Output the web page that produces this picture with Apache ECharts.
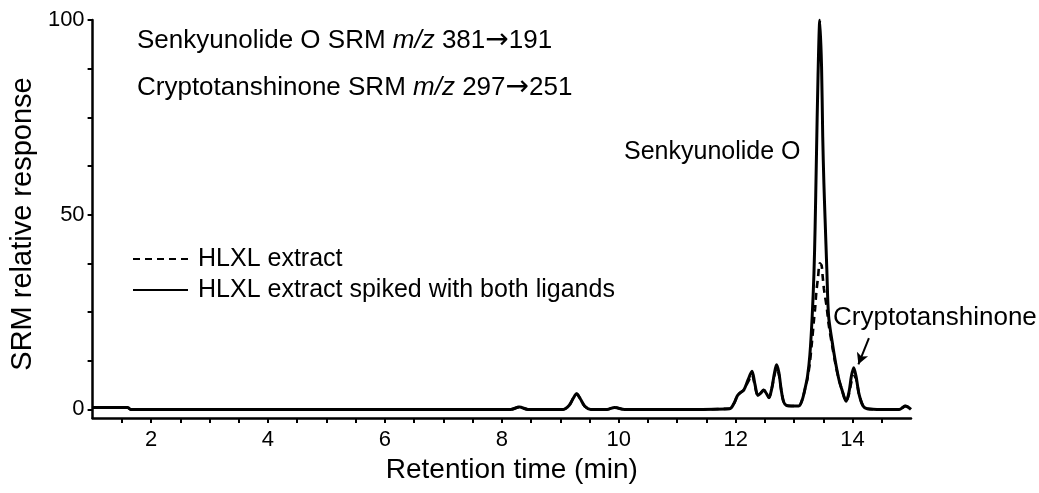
<!DOCTYPE html>
<html>
<head>
<meta charset="utf-8">
<script src="https://cdn.jsdelivr.net/npm/echarts@6/dist/echarts.min.js"></script>
<style>
html,body{margin:0;padding:0;background:#fff;}
#chart{width:1039px;height:493px;}
</style>
</head>
<body>
<div id="chart"></div>
<script>
// Retention time sample points (min)
const retentionTimes = [1.0, 1.6, 1.65, 3.0, 5.0, 7.0, 8.15, 8.3, 8.45, 9.05, 9.15, 9.22, 9.28, 9.34, 9.42, 9.52, 9.8, 9.93, 10.1, 11.0, 11.9, 11.97, 12.03, 12.08, 12.14, 12.21, 12.28, 12.33, 12.38, 12.43, 12.48, 12.53, 12.57, 12.62, 12.66, 12.70, 12.74, 12.78, 12.82, 12.87, 12.95, 13.08, 13.14, 13.19, 13.23, 13.27, 13.31, 13.34, 13.36, 13.38, 13.41, 13.44, 13.47, 13.49, 13.51, 13.53, 13.56, 13.59, 13.65, 13.71, 13.77, 13.82, 13.89, 13.94, 13.98, 14.02, 14.06, 14.11, 14.18, 14.25, 14.5, 14.8, 14.86, 14.9, 14.95, 15.0];

// HLXL extract spiked with both ligands (solid)
const spikedResponse = [0.5, 0.5, 0, 0, 0, 0, 0, 0.6, 0, 0, 1.0, 2.8, 4.0, 2.8, 0.8, 0, 0, 0.5, 0, 0, 0.2, 1.5, 3.5, 4.3, 5.0, 7.5, 9.8, 6.5, 3.6, 4.2, 5.0, 4.0, 3.0, 5.5, 9.0, 11.5, 9.5, 5.0, 2.0, 1.0, 0.9, 0.9, 2.5, 5.5, 8.5, 14, 24, 35, 47, 63, 86, 100, 88, 70, 58, 49, 36, 24, 17.5, 12, 7.5, 5, 2.1, 4.5, 8.5, 10.7, 8.5, 4.0, 0.9, 0.2, 0, 0, 0.5, 0.9, 0.6, 0];

// HLXL extract (dashed)
const extractResponse = [0.5, 0.5, 0, 0, 0, 0, 0, 0.6, 0, 0, 1.0, 2.8, 4.0, 2.8, 0.8, 0, 0, 0.5, 0, 0, 0.2, 1.5, 3.5, 4.3, 5.0, 7.0, 8.8, 6.0, 3.6, 4.2, 5.0, 4.0, 3.0, 5.5, 8.5, 10.5, 9.0, 5.0, 2.0, 1.0, 0.9, 0.9, 2.5, 5.5, 8.0, 12, 18, 23, 26, 30, 34, 37.5, 37, 34, 31, 29, 26, 22, 16.5, 11.5, 7.5, 5, 2.1, 4.0, 7.0, 8.5, 8.0, 4.0, 0.9, 0.2, 0, 0, 0.5, 0.9, 0.6, 0];

const seriesNames = ['HLXL extract', 'HLXL extract spiked with both ligands'];
const xTickValues = [1.5, 2, 2.5, 3, 3.5, 4, 4.5, 5, 5.5, 6, 6.5, 7, 7.5, 8, 8.5, 9, 9.5, 10, 10.5, 11, 11.5, 12, 12.5, 13, 13.5, 14, 14.5];
const xLabelValues = [2, 4, 6, 8, 10, 12, 14];
const yTickValues = [0, 12.5, 25, 37.5, 50, 62.5, 75, 87.5, 100];
const yLabelValues = [0, 50, 100];
const arrowFrom = [14.28, 18.3];
const arrowTo = [14.10, 11.6];

const FONT = '"Liberation Sans", Arial, sans-serif';
const ARROW_FONT = '"DejaVu Sans", sans-serif';
const pair = (vals) => retentionTimes.map((t, i) => [t, vals[i]]);
const richStyles = {
  i: {fontStyle: 'italic', fontSize: 26, fontFamily: FONT, fill: '#000'},
  a: {fontSize: 28, fontFamily: ARROW_FONT, fill: '#000'}
};

const chart = echarts.init(document.getElementById('chart'), null, {renderer: 'canvas'});
chart.setOption({
  animation: false,
  backgroundColor: '#ffffff',
  grid: {left: 88, right: 128, top: 20, bottom: 75, containLabel: false},
  xAxis: {
    type: 'value', min: 1, max: 15,
    name: 'Retention time (min)', nameLocation: 'middle', nameGap: 32,
    nameTextStyle: {fontFamily: FONT, fontSize: 28, color: '#000', padding: [0, 0, 0, 20]},
    axisLine: {show: true, onZero: false, lineStyle: {color: '#000', width: 2.5}},
    axisTick: {show: true, inside: false, length: 5, lineStyle: {color: '#000', width: 2}, customValues: xTickValues},
    axisLabel: {fontFamily: FONT, fontSize: 22, color: '#000', margin: 11, customValues: xLabelValues},
    splitLine: {show: false}
  },
  yAxis: {
    type: 'value', min: -2.2, max: 100,
    name: 'SRM relative response', nameLocation: 'middle', nameGap: 50, nameRotate: 90,
    nameTextStyle: {fontFamily: FONT, fontSize: 29, color: '#000', padding: [0, 10, 0, 0]},
    axisLine: {show: true, onZero: false, lineStyle: {color: '#000', width: 2.5}},
    axisTick: {show: true, inside: false, length: 5, lineStyle: {color: '#000', width: 2}, customValues: yTickValues},
    axisLabel: {fontFamily: FONT, fontSize: 22, color: '#000', margin: 8, customValues: yLabelValues},
    splitLine: {show: false}
  },
  legend: {
    orient: 'vertical', left: 132, top: 246, padding: 0,
    itemWidth: 55, itemHeight: 14, itemGap: 5,
    data: seriesNames,
    itemStyle: {color: 'rgba(0,0,0,0)', borderColor: 'rgba(0,0,0,0)', borderWidth: 0, opacity: 0},
    textStyle: {fontFamily: FONT, fontSize: 25, color: '#000', lineHeight: 26, padding: [0, 0, 0, 5]}
  },
  series: [
    {
      name: seriesNames[1], type: 'line', data: pair(spikedResponse),
      symbol: 'none', smooth: 0.3, z: 2,
      lineStyle: {color: '#000', width: 3, type: 'solid'},
      itemStyle: {color: '#000'},
      markLine: {
        silent: true, symbol: ['none', 'arrow'], symbolSize: [9, 11],
        label: {show: false},
        lineStyle: {color: '#000', width: 2, type: 'solid'},
        data: [[{coord: arrowFrom}, {coord: arrowTo}]]
      }
    },
    {
      name: seriesNames[0], type: 'line', data: pair(extractResponse),
      symbol: 'none', smooth: 0.3, z: 3,
      lineStyle: {color: '#000', width: 2.6, type: [7, 5]},
      itemStyle: {color: '#000'}
    }
  ],
  graphic: [
    {type: 'text', x: 137, y: 41, style: {text: 'Senkyunolide O SRM {i|m/z} 381{a|→}191', fill: '#000', font: '26px ' + FONT, verticalAlign: 'middle', align: 'left', rich: richStyles}},
    {type: 'text', x: 137, y: 88, style: {text: 'Cryptotanshinone SRM {i|m/z} 297{a|→}251', fill: '#000', font: '26px ' + FONT, verticalAlign: 'middle', align: 'left', rich: richStyles}},
    {type: 'text', x: 624, y: 152, style: {text: 'Senkyunolide O', fill: '#000', font: '25px ' + FONT, verticalAlign: 'middle', align: 'left'}},
    {type: 'text', x: 833, y: 318, style: {text: 'Cryptotanshinone', fill: '#000', font: '26px ' + FONT, verticalAlign: 'middle', align: 'left'}}
  ]
});
</script>
</body>
</html>
